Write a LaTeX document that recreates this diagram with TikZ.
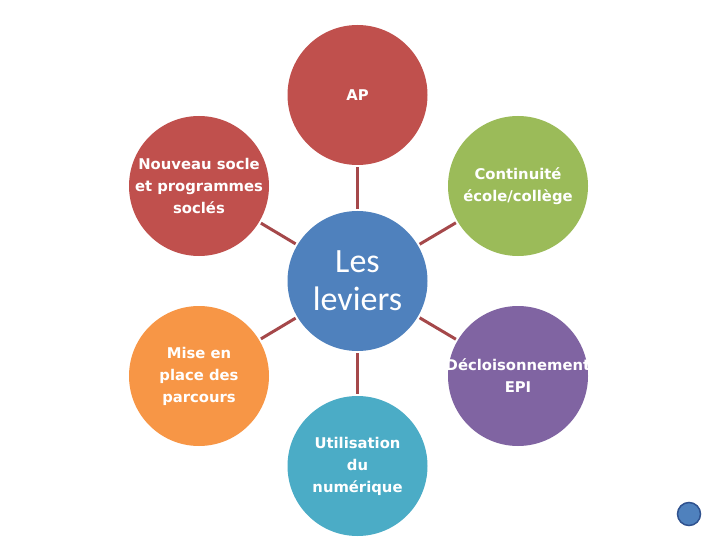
\documentclass[tikz,border=0pt]{standalone}
\usepackage{fontspec}
\setmainfont{Carlito}
\newfontfamily\comicfont{DejaVu Sans}
\definecolor{cRed}{HTML}{C0504D}
\definecolor{cGreen}{HTML}{9BBB59}
\definecolor{cBlue}{HTML}{4F81BD}
\definecolor{cOrange}{HTML}{F79646}
\definecolor{cPurple}{HTML}{8064A2}
\definecolor{cAqua}{HTML}{4BACC6}
\definecolor{cLine}{HTML}{A5484A}
\definecolor{cDark}{HTML}{2F528F}
\begin{document}
\begin{tikzpicture}[x=1pt,y=-1pt,
  circ/.style={circle, minimum size=140pt, inner sep=0pt, text=white, align=center},
  outer/.style={circ, font=\comicfont\bfseries\fontsize{14.8}{22}\selectfont},
  conn/.style={draw=cLine, line width=3pt, shorten >=2pt, shorten <=2pt}]
\useasboundingbox (0,0) rectangle (720,540);
\fill[white] (0,0) rectangle (720,540);
\node[circ, fill=cBlue, font=\fontsize{34}{38}\selectfont] (c) at (357.5,281) {Les\\leviers};
\node[outer, fill=cRed] (ap) at (357.5,95) {AP};
\node[outer, fill=cRed] (ns) at (199,186) {Nouveau socle\\et programmes\\soclés};
\node[outer, fill=cGreen] (ce) at (518,186) {Continuité\\école/collège};
\node[outer, fill=cOrange] (mp) at (199,376) {Mise en\\place des\\parcours};
\node[outer, fill=cPurple] (de) at (518,376) {\makebox[0pt][c]{Décloisonnement}\\EPI};
\node[outer, fill=cAqua] (un) at (357.5,466) {Utilisation\\du\\numérique};
\draw[conn] (c) -- (ap);
\draw[conn] (c) -- (ns);
\draw[conn] (c) -- (ce);
\draw[conn] (c) -- (mp);
\draw[conn] (c) -- (de);
\draw[conn] (c) -- (un);
\node[circle, minimum size=23pt, inner sep=0pt, fill=cBlue, draw=cDark, line width=1.5pt] (dot) at (689,514) {};
\end{tikzpicture}
\end{document}
